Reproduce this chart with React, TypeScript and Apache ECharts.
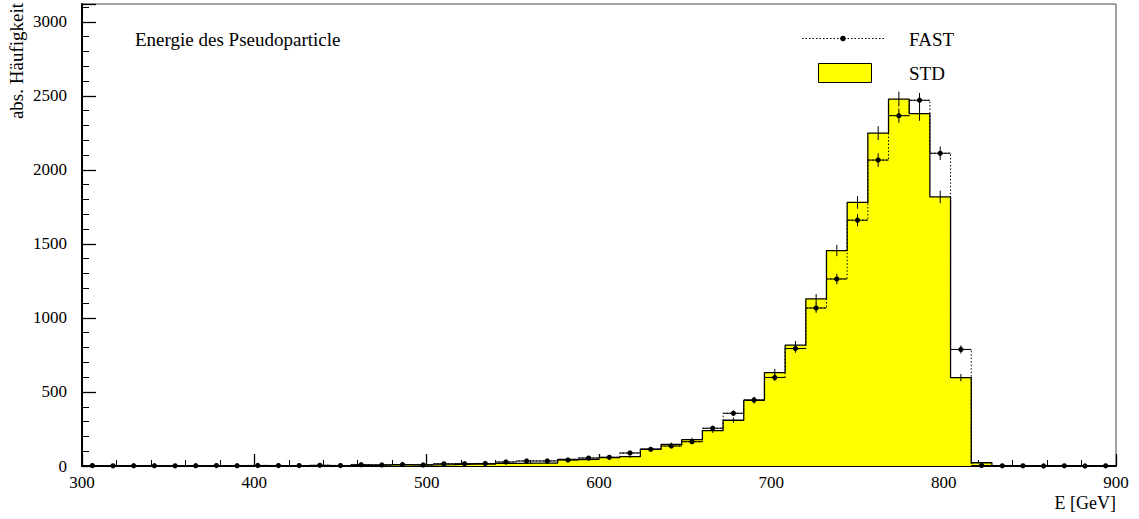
import React, { useEffect, useRef } from "react";
import * as echarts from "echarts";

// Histogram binning: 50 bins of 12 GeV from 300 to 900 GeV
const BIN_START = 300;
const BIN_WIDTH = 12;

// Entries per bin, fast simulation
const fastCounts = [
  3, 1, 2, 2, 1, 2, 3, 2, 4, 3,
  3, 5, 3, 9, 7, 10, 7, 15, 16, 17,
  27, 34, 34, 41, 54, 59, 88, 113, 135, 164,
  255, 356, 446, 598, 793, 1067, 1263, 1660, 2066, 2366,
  2470, 2112, 787, 3, 1, 1, 0, 1, 0, 1,
];

// Entries per bin, standard simulation
const stdCounts = [
  1, 0, 1, 1, 1, 1, 2, 1, 2, 2,
  3, 2, 3, 4, 7, 8, 8, 9, 13, 12,
  18, 20, 20, 44, 45, 56, 63, 113, 146, 178,
  239, 309, 443, 631, 816, 1128, 1455, 1780, 2248, 2478,
  2380, 1817, 597, 22, 0, 0, 0, 0, 0, 0,
];

const X_MIN = 300;
const X_MAX = 900;
const Y_MAX = 3120;

const TITLE = "Energie des Pseudoparticle";
const X_NAME = "E [GeV]";
const Y_NAME = "abs. Häufigkeit";
const LEGEND_FAST = "FAST";
const LEGEND_STD = "STD";

const SERIF = '"Liberation Serif", "DejaVu Serif", serif';
const YELLOW = "#ffff00";

const edgeL = (k: number) => BIN_START + k * BIN_WIDTH;
const edgeR = (k: number) => BIN_START + (k + 1) * BIN_WIDTH;
const center = (k: number) => BIN_START + (k + 0.5) * BIN_WIDTH;

// Step outline: two points per bin (left edge, right edge) at the bin height
const steps = (counts: number[]) => {
  const pts: number[][] = [];
  counts.forEach((v, k) => {
    pts.push([edgeL(k), v]);
    pts.push([edgeR(k), v]);
  });
  return pts;
};

const binData = (counts: number[]) =>
  counts.map((v, k) => [center(k), v, edgeL(k), edgeR(k)]);

export default function App() {
  const ref = useRef<HTMLDivElement>(null);

  useEffect(() => {
    document.body.style.margin = "0";
    document.body.style.overflow = "hidden";
    if (!ref.current) return;
    const chart = echarts.init(ref.current, undefined, { renderer: "svg" });

    const stdErrorBars = (params: any, api: any) => {
      const c = api.value(0);
      const v = api.value(1);
      if (v <= 0) return null;
      const e = Math.sqrt(v);
      const top = api.coord([c, v + e]);
      const bot = api.coord([c, Math.max(0, v - e)]);
      return {
        type: "line",
        shape: { x1: top[0], y1: top[1], x2: bot[0], y2: bot[1] },
        style: { stroke: "#000", lineWidth: 1 },
      };
    };

    const fastPoints = (params: any, api: any) => {
      const c = api.value(0);
      const v = api.value(1);
      const l = api.value(2);
      const r = api.value(3);
      const p = api.coord([c, v]);
      const pl = api.coord([l, v]);
      const pr = api.coord([r, v]);
      const e = Math.sqrt(v);
      const top = api.coord([c, v + e]);
      const bot = api.coord([c, Math.max(0, v - e)]);
      return {
        type: "group",
        children: [
          {
            type: "line",
            shape: { x1: pl[0], y1: p[1], x2: pr[0], y2: p[1] },
            style: { stroke: "#000", lineWidth: 1 },
          },
          {
            type: "line",
            shape: { x1: p[0], y1: top[1], x2: p[0], y2: bot[1] },
            style: { stroke: "#000", lineWidth: 1 },
          },
          {
            type: "circle",
            shape: { cx: p[0], cy: p[1], r: 2.6 },
            style: { fill: "#000" },
          },
        ],
      };
    };

    const option: any = {
      animation: false,
      backgroundColor: "#fff",
      grid: {
        left: 82,
        right: 23,
        top: 4,
        bottom: 53,
        show: true,
        borderColor: "#444",
        borderWidth: 1,
      },
      xAxis: {
        type: "value",
        min: X_MIN,
        max: X_MAX,
        interval: 100,
        axisLine: { show: true, onZero: false, lineStyle: { color: "#000", width: 2 } },
        axisTick: { show: true, inside: true, length: 12, lineStyle: { color: "#000", width: 1.3 } },
        minorTick: { show: true, splitNumber: 5, length: 6, lineStyle: { color: "#000", width: 1 } },
        axisLabel: { color: "#000", fontFamily: SERIF, fontSize: 17, margin: 8 },
        splitLine: { show: false },
        minorSplitLine: { show: false },
      },
      yAxis: [
        {
          type: "value",
          min: 0,
          max: Y_MAX,
          interval: 500,
          axisLine: { show: true, lineStyle: { color: "#000", width: 2 } },
          axisTick: { show: true, inside: true, length: 14, lineStyle: { color: "#000", width: 1.3 } },
          axisLabel: {
            color: "#000",
            fontFamily: SERIF,
            fontSize: 17,
            margin: 15,
            formatter: (v: number) => (v % 500 === 0 ? String(v) : ""),
          },
          splitLine: { show: false },
        },
        {
          type: "value",
          min: 0,
          max: Y_MAX,
          interval: 100,
          position: "left",
          axisLine: { show: false },
          axisTick: { show: true, inside: true, length: 7, lineStyle: { color: "#000", width: 1 } },
          axisLabel: { show: false },
          splitLine: { show: false },
        },
      ],
      series: [
        {
          name: LEGEND_STD,
          type: "line",
          data: steps(stdCounts),
          symbol: "none",
          lineStyle: { color: "#000", width: 1.3 },
          areaStyle: { color: YELLOW, opacity: 1 },
          z: 2,
        },
        {
          name: LEGEND_FAST,
          type: "line",
          data: steps(fastCounts),
          symbol: "none",
          lineStyle: { color: "#000", width: 1, type: [1.5, 2] },
          z: 3,
        },
        {
          type: "custom",
          data: binData(stdCounts),
          renderItem: stdErrorBars,
          z: 4,
        },
        {
          type: "custom",
          data: binData(fastCounts),
          renderItem: fastPoints,
          z: 5,
        },
      ],
      graphic: [
        {
          type: "text",
          x: 135,
          y: 39,
          style: { text: TITLE, fontFamily: SERIF, fontSize: 19, fill: "#000", align: "left", verticalAlign: "middle" },
        },
        {
          type: "line",
          shape: { x1: 802, y1: 38.5, x2: 884, y2: 38.5 },
          style: { stroke: "#000", lineWidth: 1, lineDash: [1.5, 2] },
        },
        {
          type: "circle",
          shape: { cx: 843, cy: 38.5, r: 2.8 },
          style: { fill: "#000" },
        },
        {
          type: "text",
          x: 909,
          y: 39,
          style: { text: LEGEND_FAST, fontFamily: SERIF, fontSize: 19, fill: "#000", align: "left", verticalAlign: "middle" },
        },
        {
          type: "rect",
          shape: { x: 818.5, y: 63.5, width: 53, height: 19 },
          style: { fill: YELLOW, stroke: "#000", lineWidth: 1 },
        },
        {
          type: "text",
          x: 909,
          y: 73,
          style: { text: LEGEND_STD, fontFamily: SERIF, fontSize: 19, fill: "#000", align: "left", verticalAlign: "middle" },
        },
        {
          type: "text",
          x: 16,
          y: 3,
          rotation: Math.PI / 2,
          style: { text: Y_NAME, fontFamily: SERIF, fontSize: 19, fill: "#000", align: "right", verticalAlign: "middle" },
        },
        {
          type: "text",
          x: 1116,
          y: 503,
          style: { text: X_NAME, fontFamily: SERIF, fontSize: 18, fill: "#000", align: "right", verticalAlign: "middle" },
        },
      ],
    };

    chart.setOption(option);
    return () => chart.dispose();
  }, []);

  return <div ref={ref} style={{ width: 1139, height: 519 }} />;
}
